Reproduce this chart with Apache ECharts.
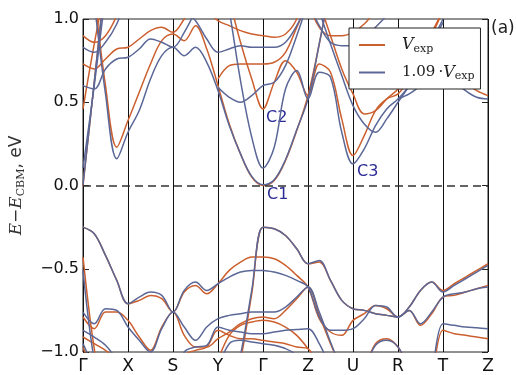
<!DOCTYPE html>
<html>
<head>
<meta charset="utf-8">
<script src="https://cdn.jsdelivr.net/npm/echarts@6/dist/echarts.min.js"></script>
<style>
  html, body { margin: 0; padding: 0; background: #fff; }
  #bands { width: 516px; height: 375px; }
</style>
</head>
<body>
<div id="bands"></div>
<script>
// k-path: Γ X S Y Γ Z U R T Z, four samples per segment
const kTicks = ['Γ', 'X', 'S', 'Y', 'Γ', 'Z', 'U', 'R', 'T', 'Z']
const kPath = Array.from({length: 37}, (_, i) => i / 4)

// conduction bands, V_exp (orange)
const cbExp = [
    // Γ-X                            X-S                      S-Y                      Y-Γ                      Γ-Z                      Z-U                      U-R                      R-T                      T-Z
    [1.80, 1.15, 0.60, 0.23, 0.39,    0.56, 0.73, 0.87, 0.91,  0.87, 0.96, 0.82, 0.60,  0.37, 0.19, 0.05, 0.00,  0.03, 0.15, 0.33, 0.54,  0.85, 1.20, null, null,  null, null, null, null,  null, null, null, null,  null, null, null, null],
    [0.00, 0.62, 1.25, null, null,    null, null, null, null,  null, null, null, null,  null, null, null, null,  null, null, null, null,  null, null, null, null,  null, null, null, null,  null, null, null, null,  null, null, null, null],
    [0.46, 0.85, 1.20, null, null,    null, null, null, null,  null, null, null, 1.40,  1.12, 0.86, 0.64, 0.46,  0.62, 0.75, 0.68, 0.54,  0.73, 0.68, 0.40, 0.18,  0.30, 0.45, 0.52, 0.55,  0.64, 0.76, 0.90, 1.05,  null, null, null, null],
    [0.73, 0.70, 0.76, 0.82, 0.83,    0.88, 0.93, 0.95, 0.92,  1.00, 1.10, null, null,  null, null, null, null,  null, null, null, null,  null, null, null, null,  null, null, null, null,  null, null, null, null,  null, null, null, null],
    [null, null, null, null, null,    null, null, null, null,  null, null, null, 0.64,  0.72, 0.73, 0.73, 0.73,  0.74, 0.80, 0.95, 1.10,  null, null, null, null,  null, null, null, null,  null, null, null, null,  null, null, null, null],
    [0.90, 0.86, 0.90, 1.02, 1.20,    null, null, null, null,  null, 1.20, 1.06, 0.99,  0.96, 0.93, 0.91, 0.90,  0.89, 0.91, 1.00, 1.20,  null, null, null, null,  null, null, null, null,  null, null, null, null,  null, null, null, null],
    [null, null, null, null, null,    null, null, null, null,  null, null, null, null,  null, null, null, null,  null, null, null, 1.30,  1.10, 0.90, 0.70, 0.55,  0.43, 0.45, 0.52, 0.58,  0.68, 0.80, 0.92, 1.05,  null, null, null, null],
    [null, null, null, null, null,    null, null, null, null,  null, null, null, null,  null, null, null, null,  null, null, null, 1.10,  0.95, 0.90, 0.90, 0.92,  0.97, 1.05, null, null,  null, null, null, null,  null, null, null, null],
    [null, null, null, null, null,    null, null, null, null,  null, null, null, null,  null, null, null, null,  null, null, null, null,  null, null, null, null,  null, null, null, 0.58,  0.60, 0.65, 0.70, 0.75,  0.68, 0.62, 0.57, 0.54]
]

// conduction bands, 1.09·V_exp (blue)
const cbScaled = [
    [1.70, 1.10, 0.55, 0.16, 0.32,    0.45, 0.64, 0.78, 0.83,  0.78, 0.83, 0.74, 0.57,  0.36, 0.19, 0.055, 0.005, 0.035, 0.155, 0.335, 0.52, 0.85, 1.20, null, null,  null, null, null, null,  null, null, null, null,  null, null, null, null],
    [0.005, 0.62, 1.25, null, null,   null, null, null, null,  null, null, null, null,  null, null, null, null,  null, null, null, null,  null, null, null, null,  null, null, null, null,  null, null, null, null,  null, null, null, null],
    [0.105, 0.60, 1.15, null, null,   null, null, null, null,  null, null, null, 1.40,  1.05, 0.63, 0.29, 0.105, 0.23, 0.58, 0.69, 0.52,  0.68, 0.65, 0.32, 0.13,  0.22, 0.36, 0.46, 0.52,  0.60, 0.72, 0.86, 1.00,  null, null, null, null],
    [0.60, 0.58, 0.70, 0.76, 0.77,    0.82, 0.88, 0.86, 0.83,  0.92, 1.05, null, null,  null, null, null, null,  null, null, null, null,  null, null, null, null,  null, null, null, null,  null, null, null, null,  null, null, null, null],
    [null, null, null, null, null,    null, null, null, null,  null, null, null, 0.59,  0.53, 0.50, 0.54, 0.60,  0.62, 0.72, 0.90, 1.10,  null, null, null, null,  null, null, null, null,  null, null, null, null,  null, null, null, null],
    [0.83, 0.80, 0.86, 0.97, 1.15,    null, null, null, null,  1.05, 0.99, 0.88, 0.80,  0.82, 0.84, 0.83, 0.83,  0.83, 0.86, 0.96, 1.10,  null, null, null, null,  null, null, null, null,  null, null, null, null,  null, null, null, null],
    [null, null, null, null, null,    null, null, null, null,  null, null, null, null,  null, null, null, null,  null, null, null, 1.30,  1.05, 0.85, 0.66, 0.48,  0.37, 0.32, 0.40, 0.50,  0.60, 0.72, 0.85, 0.98,  null, null, null, null],
    [null, null, null, null, null,    null, null, null, null,  null, null, null, null,  null, null, null, null,  null, null, null, 1.10,  0.96, 0.86, 0.84, 0.84,  0.88, 0.95, 1.02, null,  null, null, null, null,  null, null, null, null],
    [null, null, null, null, null,    null, null, null, null,  null, null, null, null,  null, null, null, null,  null, null, null, null,  null, null, null, null,  null, null, null, 0.52,  0.55, 0.60, 0.65, 0.70,  0.63, 0.57, 0.53, 0.52]
]

// valence bands, V_exp (orange)
const vbExp = [
    [-0.25, -0.29, -0.42, -0.57, -0.71, -0.69, -0.66, -0.68, -0.76, -0.64, -0.60, -0.65, -0.59, -0.51, -0.46, -0.43, -0.43, -0.44, -0.48, -0.54, -0.61, -0.80, -0.88, -0.90, -0.81, -0.77, -0.72, -0.74, -0.79, -0.75, -0.84, -0.77, -0.67, -0.66, -0.64, -0.62, -0.60],
    [-0.43, -0.98, -1.30, null, null,   null, null, null, null,      null, null, null, null,      -1.30, -1.05, -0.65, -0.25, -0.26, -0.30, -0.38, -0.47, -0.46, -0.57, -0.69, -0.74, -0.75, -0.77, -0.78, -0.79, -0.73, -0.63, -0.58, -0.63, -0.59, -0.55, -0.51, -0.47],
    [-0.79, -0.86, -0.76, -0.76, -0.81, -0.91, -0.99, -0.85, -0.76, -0.90, -0.97, -0.97, -0.92, -0.88, -0.83, -0.80, -0.79, -0.80, -0.75, -0.68, -0.61, -0.78, -0.95, -1.10, -1.20, -1.10, -0.95, -0.92, -0.97, -1.10, -1.20, null, null,   null, null, null, null],
    [-0.91, -0.95, -0.99, -1.05, -1.20, -1.30, -1.30, -1.30, -1.20, -1.02, -0.99, -0.97, -0.87, -0.90, -0.92, -0.92, -0.93, -0.94, -0.95, -0.97, -0.98, -1.10, -1.20, null, null,   null, null, null, null,      null, null, -1.25, -0.87, -0.89, -0.90, -0.91, -0.92],
    [null, null, null, null, null,      null, null, null, null,      null, null, null, -1.05,     -0.90, -0.84, -0.82, -0.81, -0.82, -0.85, -0.90, -0.98, null, null, null, null,      null, null, null, null,      null, null, null, null,      null, null, null, null],
    [-0.97, -1.15, null, null, null,    null, null, null, null,      null, null, null, null,      null, null, null, null,      null, null, null, null,      null, null, null, null,      null, null, null, null,      null, null, null, null,      null, null, null, null]
]

// valence bands, 1.09·V_exp (blue)
const vbScaled = [
    [-0.25, -0.29, -0.42, -0.57, -0.71, -0.67, -0.64, -0.66, -0.76, -0.63, -0.58, -0.63, -0.59, -0.55, -0.52, -0.51, -0.51, -0.52, -0.54, -0.57, -0.61, -0.79, -0.87, -0.87, -0.86, -0.80, -0.72, -0.73, -0.79, -0.75, -0.83, -0.76, -0.67, -0.65, -0.64, -0.62, -0.61],
    [-0.51, -1.05, -1.30, null, null,   null, null, null, null,      null, null, null, null,      -1.30, -1.02, -0.63, -0.25, -0.26, -0.30, -0.38, -0.47, -0.45, -0.57, -0.69, -0.74, -0.75, -0.77, -0.78, -0.79, -0.73, -0.63, -0.58, -0.64, -0.60, -0.56, -0.52, -0.48],
    [-0.76, -0.83, -0.74, -0.75, -0.85, -0.93, -1.00, -0.86, -0.76, -0.85, -0.93, -0.85, -0.80, -0.78, -0.77, -0.76, -0.76, -0.76, -0.73, -0.67, -0.61, -0.76, -0.94, -1.10, -1.20, -1.10, -0.96, -0.93, -0.97, -1.10, -1.20, null, null,   null, null, null, null],
    [-0.87, -0.91, -0.96, -1.05, -1.20, -1.30, -1.30, -1.30, -1.20, -1.00, -0.97, -0.96, -0.85, -0.87, -0.88, -0.89, -0.89, -0.88, -0.87, -0.865, -0.86, -0.95, -1.10, null, null,  null, null, null, null,      null, null, -1.20, -0.83, -0.84, -0.85, -0.855, -0.86],
    [null, null, null, null, null,      null, null, null, null,      null, null, null, -1.10,     -0.95, -0.93, -0.94, -0.95, -0.96, -0.98, -1.02, -1.10, null, null, null, null,      null, null, null, null,      null, null, null, null,      null, null, null, null],
    [-0.95, -1.10, null, null, null,    null, null, null, null,      null, null, null, null,      null, null, null, null,      null, null, null, null,      null, null, null, null,      null, null, null, null,      null, null, null, null,      null, null, null, null]
]

const yTicks = [-1.0, -0.5, 0.0, 0.5, 1.0]

const orange = '#cc5f2e'
const blue = '#5b6797'

function bandSeries(name, color, band) {
    return {
        name: name,
        type: 'line',
        smooth: 0.35,
        showSymbol: false,
        symbol: 'none',
        silent: true,
        clip: true,
        connectNulls: false,
        lineStyle: {color: color, width: 1.5},
        itemStyle: {color: color},
        data: band.map((e, i) => [kPath[i], e])
    }
}

const series = []
cbExp.concat(vbExp).forEach(b => series.push(bandSeries('Vexp', orange, b)))
cbScaled.concat(vbScaled).forEach(b => series.push(bandSeries('V109', blue, b)))
// dashed reference line at the CBM
series.push({
    name: 'cbm', type: 'line', data: [], silent: true,
    markLine: {
        symbol: 'none', silent: true, label: {show: false},
        lineStyle: {color: '#333', width: 1.5, type: [8, 5]},
        data: [{yAxis: 0}]
    }
})

const serif = 'DejaVu Serif'
const sans = 'DejaVu Sans'

const option = {
    animation: false,
    backgroundColor: '#fff',
    grid: {left: 83, right: 28, top: 19, bottom: 22, show: true, borderColor: '#222', borderWidth: 1},
    xAxis: {
        type: 'value', min: 0, max: 9, interval: 1,
        axisLine: {show: false},
        axisTick: {show: false},
        splitLine: {show: true, lineStyle: {color: '#111', width: 1}},
        axisLabel: {
            fontFamily: sans, fontSize: 17, color: '#111', margin: 6,
            formatter: v => kTicks[Math.round(v)]
        }
    },
    yAxis: [{
        type: 'value', min: -1, max: 1, interval: 0.5,
        axisLine: {show: false},
        axisTick: {show: true, inside: true, length: 6, lineStyle: {color: '#222'}},
        splitLine: {show: false},
        axisLabel: {
            fontFamily: sans, fontSize: 16, color: '#111', margin: 4,
            formatter: v => yTicks.includes(v) ? v.toFixed(1).replace('-', '\u2212') : ''
        },
        name: '{i|E}{n|\u2212}{i|E}{s|CBM}{n|, eV}',
        nameLocation: 'middle', nameRotate: 90, nameGap: 56,
        nameTextStyle: {
            rich: {
                i: {fontFamily: serif, fontStyle: 'italic', fontSize: 17, color: '#333'},
                n: {fontFamily: sans, fontSize: 17, color: '#333'},
                s: {fontFamily: serif, fontSize: 11, color: '#333', padding: [9, 0, 0, 0]}
            }
        }
    }, {
        type: 'value', min: -1, max: 1, interval: 0.5, position: 'right',
        axisLine: {show: false},
        axisTick: {show: true, inside: true, length: 6, lineStyle: {color: '#222'}},
        axisLabel: {show: false},
        splitLine: {show: false}
    }],
    legend: {
        data: ['Vexp', 'V109'],
        orient: 'vertical',
        left: 349, top: 28,
        padding: [9, 6, 7, 10],
        itemGap: 10,
        itemWidth: 26, itemHeight: 2,
        icon: 'rect',
        backgroundColor: '#fff',
        borderColor: '#222', borderWidth: 1,
        formatter: n => n === 'Vexp' ? '{it|V}{sb|exp}' : '{nm|1.09\u2009\u00b7}{it|V}{sb|exp}',
        textStyle: {
            padding: [0, 0, 0, 12],
            rich: {
                it: {fontFamily: serif, fontStyle: 'italic', fontSize: 16, color: '#222'},
                nm: {fontFamily: serif, fontSize: 15, color: '#222'},
                sb: {fontFamily: serif, fontSize: 11, color: '#222', padding: [8, 0, 0, 0]}
            }
        }
    },
    graphic: [
        {type: 'text', left: 491, top: 20, style: {text: '(a)', font: '17px "DejaVu Sans"', fill: '#222'}},
        {type: 'text', left: 266, top: 110, style: {text: 'C2', font: '16px "DejaVu Sans"', fill: '#2b2b96'}},
        {type: 'text', left: 267, top: 187, style: {text: 'C1', font: '16px "DejaVu Sans"', fill: '#2b2b96'}},
        {type: 'text', left: 357, top: 164, style: {text: 'C3', font: '16px "DejaVu Sans"', fill: '#2b2b96'}}
    ],
    series: series
}

const chart = echarts.init(document.getElementById('bands'))
chart.setOption(option)
window.addEventListener('resize', () => chart.resize())
</script>
</body>
</html>
